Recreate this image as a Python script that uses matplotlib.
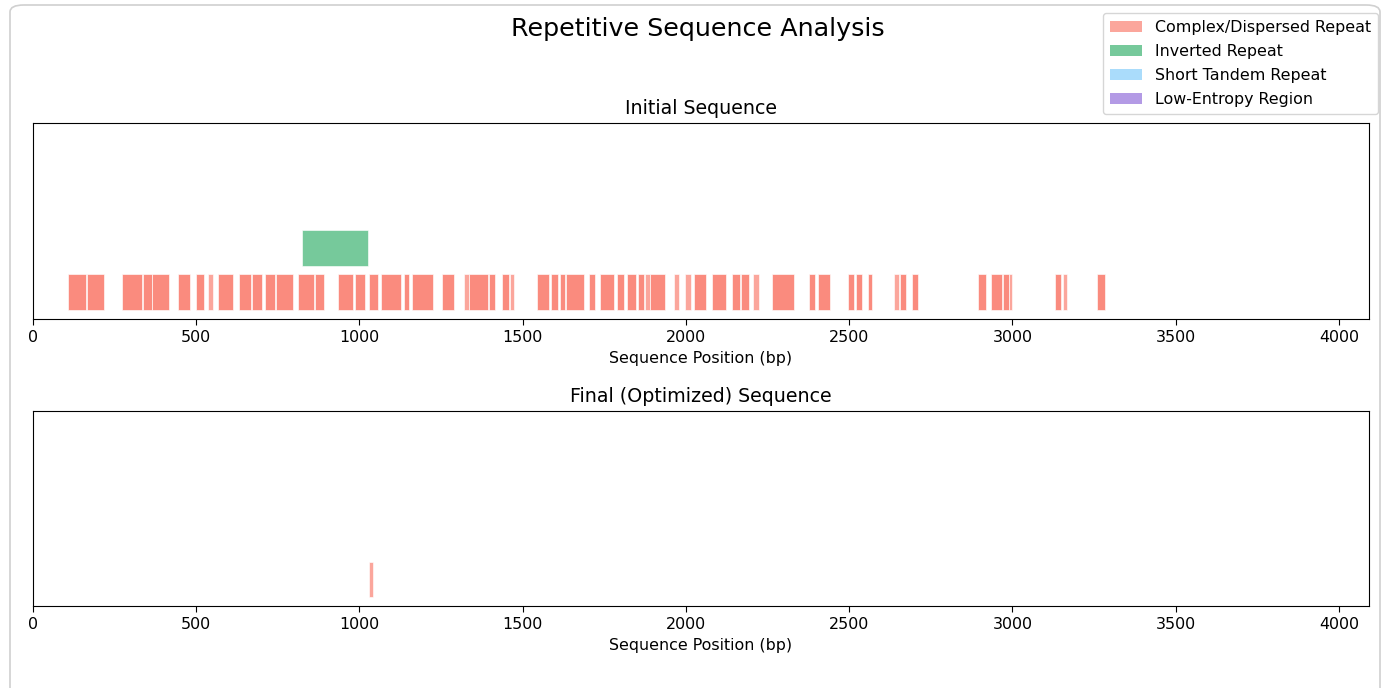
import matplotlib
matplotlib.use("Agg")
import matplotlib.pyplot as plt
from matplotlib.patches import Patch, FancyBboxPatch

# ---- data (bp) ----
seq_length = 4092
initial_starts = [108, 164, 273, 337, 366, 445, 498, 537, 566, 632, 670, 710, 743, 811, 864,
                  933, 986, 1029, 1067, 1137, 1162, 1254, 1320, 1336, 1398, 1435, 1460, 1545,
                  1587, 1614, 1632, 1704, 1738, 1788, 1819, 1854, 1874, 1890, 1963, 1998, 2024,
                  2080, 2142, 2168, 2205, 2262, 2378, 2405, 2497, 2522, 2556, 2637, 2655, 2693,
                  2893, 2935, 2971, 2990, 3131, 3154, 3259]
initial_ends = [161, 217, 335, 366, 416, 481, 523, 551, 614, 667, 700, 741, 797, 862, 892,
                981, 1018, 1057, 1126, 1152, 1225, 1288, 1336, 1395, 1415, 1457, 1474, 1580,
                1608, 1629, 1688, 1720, 1780, 1811, 1847, 1871, 1890, 1935, 1978, 2015, 2061,
                2122, 2165, 2194, 2223, 2331, 2395, 2440, 2515, 2539, 2571, 2651, 2673, 2711,
                2918, 2967, 2990, 2999, 3149, 3167, 3284]
# number of overlapping detections per interval
initial_copies = [2, 2, 2, 2, 2, 2, 2, 1, 2, 2, 2, 2, 2, 2, 2,
                  2, 2, 2, 2, 2, 2, 2, 1, 2, 2, 2, 1, 2,
                  2, 2, 2, 2, 2, 2, 2, 2, 1, 2, 1, 1, 2,
                  2, 2, 2, 1, 2, 2, 2, 2, 2, 2, 1, 2, 2,
                  2, 2, 2, 1, 2, 1, 2]
inverted_starts = [825]
inverted_ends = [1025]
final_starts = [1029]
final_ends = [1042]
final_copies = [1]

categories = ["Complex/Dispersed Repeat", "Inverted Repeat", "Short Tandem Repeat", "Low-Entropy Region"]
colors = {"Complex/Dispersed Repeat": "#FA8072", "Inverted Repeat": "#3CB371",
          "Short Tandem Repeat": "#87CEFA", "Low-Entropy Region": "#9370DB"}
track = {"Complex/Dispersed Repeat": (0.1, 0.4), "Inverted Repeat": (0.6, 0.4),
         "Short Tandem Repeat": (1.1, 0.4), "Low-Entropy Region": (1.6, 0.4)}

S = 1.14  # font scale
W, H = 1384, 688
fig = plt.figure(figsize=(W / 100, H / 100), dpi=100)

# notebook-like rounded frame
frame = FancyBboxPatch((10 / W, -0.05), 1370 / W, (H - 5) / H + 0.05,
                       boxstyle="round,pad=0,rounding_size=0.01",
                       transform=fig.transFigure, facecolor="none",
                       edgecolor="#d0d0d0", linewidth=1.2, zorder=0)
fig.patches.append(frame)

left, right = 33 / W, 1369 / W
ax1 = fig.add_axes([left, 1 - 319 / H, right - left, (319 - 123) / H])
ax2 = fig.add_axes([left, 1 - 606 / H, right - left, (606 - 411) / H])


def draw(ax, starts, ends, copies, cat):
    y0, h = track[cat]
    for s, e, c in zip(starts, ends, copies):
        for _ in range(c):
            ax.broken_barh([(s, e - s)], (y0, h), facecolors=colors[cat], alpha=0.7,
                           edgecolor="white", linewidth=0.6)


draw(ax1, initial_starts, initial_ends, initial_copies, "Complex/Dispersed Repeat")
draw(ax1, inverted_starts, inverted_ends, [1], "Inverted Repeat")
draw(ax2, final_starts, final_ends, final_copies, "Complex/Dispersed Repeat")

for ax, title in [(ax1, "Initial Sequence"), (ax2, "Final (Optimized) Sequence")]:
    ax.set_xlim(0, seq_length)
    ax.set_ylim(0, 2.2)
    ax.set_yticks([])
    ax.set_title(title, fontsize=12 * S, pad=6 * S)
    ax.set_xlabel("Sequence Position (bp)", fontsize=10 * S, labelpad=4 * S)
    ax.tick_params(axis="x", labelsize=10 * S, length=3.5 * S, pad=3.5 * S)

fig.text(698 / W, 1 - 29 / H, "Repetitive Sequence Analysis", fontsize=16 * S,
         ha="center", va="center")

handles = [Patch(facecolor=colors[c], alpha=0.7, label=c) for c in categories]
fig.legend(handles=handles, loc="upper right", bbox_to_anchor=(1378 / W, 1 - 13 / H),
           borderaxespad=0, fontsize=10 * S, frameon=True, labelspacing=0.56,
           borderpad=0.45)

fig.savefig("out.png", dpi=100)
